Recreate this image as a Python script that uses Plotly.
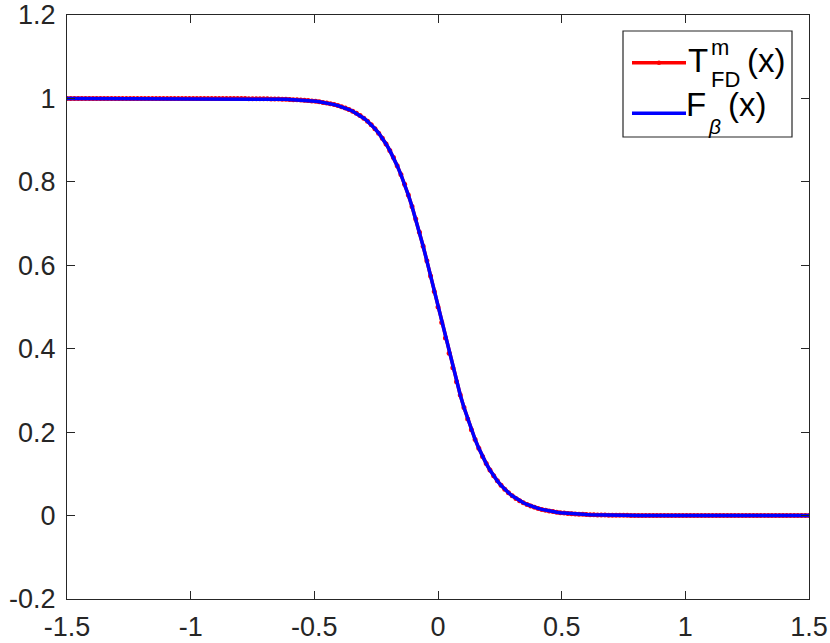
import numpy as np
import plotly.graph_objects as go

# ---------------- data ----------------
x_vals = np.linspace(-1.5, 1.5, 201)

t_fd = [
    1.0, 1.0, 1.0, 1.0, 1.0, 1.0, 1.0, 1.0, 1.0, 1.0,
    1.0, 1.0, 1.0, 1.0, 1.0, 1.0, 1.0, 1.0, 1.0, 1.0,
    1.0, 1.0, 1.0, 1.0, 1.0, 1.0, 1.0, 1.0, 1.0, 1.0,
    1.0, 1.0, 1.0, 1.0, 1.0, 1.0, 1.0, 1.0, 1.0, 1.0,
    0.9999, 0.9999, 0.9998, 0.9998, 0.9998, 0.9997, 0.9997, 0.9996, 0.9996, 0.9995,
    0.9994, 0.9994, 0.9993, 0.9991, 0.9990, 0.9988, 0.9986, 0.9984, 0.9982, 0.9979,
    0.9975, 0.9971, 0.9967, 0.9961, 0.9955, 0.9948, 0.9939, 0.9930, 0.9918, 0.9905,
    0.9890, 0.9873, 0.9852, 0.9829, 0.9802, 0.9770, 0.9734, 0.9692, 0.9644, 0.9589,
    0.9526, 0.9453, 0.9370, 0.9276, 0.9168, 0.9047, 0.8909, 0.8754, 0.8581, 0.8389,
    0.8176, 0.7941, 0.7685, 0.7408, 0.7109, 0.6792, 0.6457, 0.6106, 0.5744, 0.5374,
    0.5,
    0.4626, 0.4256, 0.3894, 0.3543, 0.3208, 0.2891, 0.2592, 0.2315, 0.2059, 0.1824,
    0.1611, 0.1419, 0.1246, 0.1091, 0.0953, 0.0832, 0.0724, 0.0630, 0.0547, 0.0474,
    0.0411, 0.0356, 0.0308, 0.0266, 0.0230, 0.0198, 0.0171, 0.0148, 0.0127, 0.0110,
    0.0095, 0.0082, 0.0070, 0.0061, 0.0052, 0.0045, 0.0039, 0.0033, 0.0029, 0.0025,
    0.0021, 0.0018, 0.0016, 0.0014, 0.0012, 0.0010, 0.0009, 0.0007, 0.0006, 0.0006,
    0.0005, 0.0004, 0.0004, 0.0003, 0.0003, 0.0002, 0.0002, 0.0002, 0.0001, 0.0001,
    0.0, 0.0, 0.0, 0.0, 0.0, 0.0, 0.0, 0.0, 0.0, 0.0,
    0.0, 0.0, 0.0, 0.0, 0.0, 0.0, 0.0, 0.0, 0.0, 0.0,
    0.0, 0.0, 0.0, 0.0, 0.0, 0.0, 0.0, 0.0, 0.0, 0.0,
    0.0, 0.0, 0.0, 0.0, 0.0, 0.0, 0.0, 0.0, 0.0, 0.0,
]
f_beta = list(t_fd)  # visually identical curve

x_ticks = [-1.5, -1.0, -0.5, 0.0, 0.5, 1.0, 1.5]
x_tick_labels = ["-1.5", "-1", "-0.5", "0", "0.5", "1", "1.5"]
y_ticks = [-0.2, 0.0, 0.2, 0.4, 0.6, 0.8, 1.0, 1.2]
y_tick_labels = ["-0.2", "0", "0.2", "0.4", "0.6", "0.8", "1", "1.2"]

# ---------------- figure ----------------
W, H = 830, 643
PL, PR, PT, PB = 67, 809, 15, 599          # plot box in window pixels
ML, MR, MT, MB = PL, W - PR, PT, H - PB
AX = "#262626"
FONT = "Liberation Sans, Arial, Helvetica, sans-serif"


def px(xp):
    return (xp - PL) / (PR - PL)


def py(yp):
    return (PB - yp) / (PB - PT)


fig = go.Figure()
fig.add_trace(go.Scatter(
    x=x_vals, y=t_fd, mode="lines+markers",
    line=dict(color="#ff0000", width=3.5),
    marker=dict(color="#ff0000", size=5),
    showlegend=False, name="T_FD^m(x)"))
fig.add_trace(go.Scatter(
    x=x_vals, y=f_beta, mode="lines",
    line=dict(color="#0000ff", width=3.5),
    showlegend=False, name="F_beta(x)"))

axis_common = dict(
    showline=True, linecolor=AX, linewidth=1, mirror="allticks",
    ticks="inside", ticklen=8, tickcolor=AX, tickwidth=1,
    showgrid=False, zeroline=False, automargin=False,
    ticklabeloverflow="allow",
    tickfont=dict(family=FONT, size=27, color=AX),
)
fig.update_xaxes(range=[-1.5, 1.5], tickvals=x_ticks, ticktext=x_tick_labels,
                 ticklabelstandoff=4, **axis_common)
fig.update_yaxes(range=[-0.2, 1.2], tickvals=y_ticks, ticktext=y_tick_labels,
                 ticklabelstandoff=5, **axis_common)

# ---------------- custom legend (MATLAB style) ----------------
shapes = [
    dict(type="rect", xref="paper", yref="paper",
         x0=px(623), x1=px(792), y0=py(137), y1=py(31),
         line=dict(color=AX, width=1.2), fillcolor="white", layer="above"),
    dict(type="line", xref="paper", yref="paper",
         x0=px(632), x1=px(686), y0=py(62.7), y1=py(62.7),
         line=dict(color="#ff0000", width=3.5), layer="above"),
    dict(type="circle", xref="paper", yref="paper",
         x0=px(656.8), x1=px(661.2), y0=py(64.9), y1=py(60.5),
         line=dict(color="#ff0000", width=0), fillcolor="#ff0000", layer="above"),
    dict(type="line", xref="paper", yref="paper",
         x0=px(632), x1=px(686), y0=py(113.3), y1=py(113.3),
         line=dict(color="#0000ff", width=3.5), layer="above"),
]

FS_MAIN, FS_SMALL = 33, 22


def ann(text, xl, yc, size, italic=False):
    return dict(text=text, xref="paper", yref="paper", x=px(xl), y=py(yc),
                xanchor="left", yanchor="middle", showarrow=False,
                borderpad=0, borderwidth=0,
                font=dict(family=FONT, size=size, color="black",
                          style="italic" if italic else "normal"))


annotations = [
    ann("T", 688, 72 - 0.35 * FS_MAIN, FS_MAIN),
    ann("m", 711, 55 - 0.35 * FS_SMALL, FS_SMALL),
    ann("FD", 711, 86.7 - 0.35 * FS_SMALL, FS_SMALL),
    ann("(x)", 747, 72 - 0.35 * FS_MAIN, FS_MAIN),
    ann("F", 686, 116.5 - 0.35 * FS_MAIN, FS_MAIN),
    ann("β", 708, 134 - 0.35 * 21, 21, italic=True),
    ann("(x)", 728, 116 - 0.35 * FS_MAIN, FS_MAIN),
]

fig.update_layout(
    width=W, height=H,
    margin=dict(l=ML, r=MR, t=MT, b=MB, pad=0, autoexpand=False),
    plot_bgcolor="white", paper_bgcolor="white",
    shapes=shapes, annotations=annotations,
    showlegend=False,
)

fig.write_html(
    "out.html",
    config={"displayModeBar": False},
    post_script="document.body.style.margin='0';document.body.style.overflow='hidden';",
)
